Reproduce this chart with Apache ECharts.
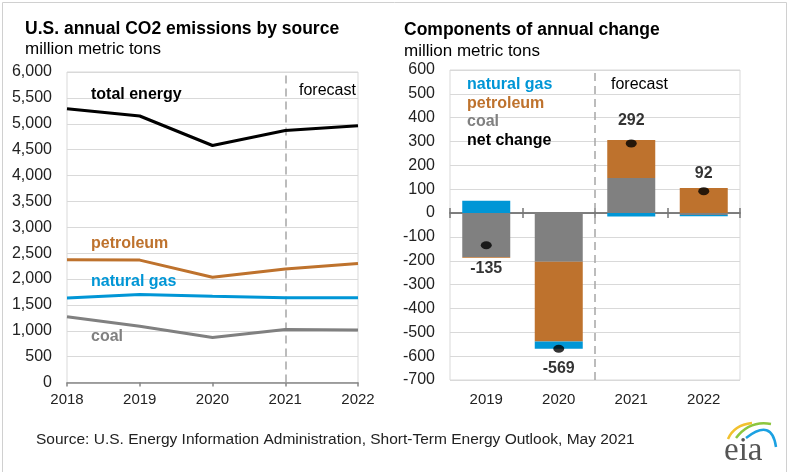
<!DOCTYPE html>
<html>
<head>
<meta charset="utf-8">
<script src="https://cdn.jsdelivr.net/npm/echarts@6/dist/echarts.min.js"></script>
<style>
html,body{margin:0;padding:0;background:#fff;}
#chart{width:790px;height:472px;}
</style>
</head>
<body>
<div id="chart"></div>
<script>
// ---- Data ----
var years = ['2018', '2019', '2020', '2021', '2022'];
var totalEnergy = [5290, 5150, 4580, 4870, 4960];
var petroleum = [2370, 2365, 2035, 2195, 2300];
var naturalGas = [1635, 1700, 1665, 1640, 1640];
var coal = [1270, 1085, 870, 1025, 1015];
var forecastYear = '2021';

var changeYears = ['2019', '2020', '2021', '2022'];
var coalChange = [-184, -204, 147, -8];
var petroleumChange = [-3, -335, 159, 105];
var gasChange = [52, -30, -14, -5];
var netChange = [-135, -569, 292, 92];
var changeForecastBoundary = 2; // boundary index between 2020 and 2021

var leftTicks = [0, 6000, 500];
var rightTicks = [-700, 600, 100];

// ---- Styles ----
var FONT = '"Liberation Sans", Arial, sans-serif';
var C_PET = '#BE722D';
var C_GAS = '#0096D6';
var C_COAL = '#808080';
var C_GRID = '#D9D9D9';
var C_TEXT = '#222222';

function fmt(v) { return v.toLocaleString('en-US'); }

var chart = echarts.init(document.getElementById('chart'), null, {renderer: 'canvas'});

function txt(text, x, y, font, fill, align, vAlign) {
  return {type: 'text', silent: true, z: 100, style: {text: text, x: x, y: y, font: font, fill: fill, align: align || 'left', verticalAlign: vAlign || 'middle'}};
}

var labelPos = netChange.map(function (v, i) {
  var dist = [11, 8, 11, 6][i];
  return {value: v, label: {position: v < 0 ? 'bottom' : 'top', distance: dist}};
});

var option = {
  animation: false,
  backgroundColor: '#ffffff',
  grid: [
    {left: 67, top: 72, width: 291, height: 310.5, show: true, borderColor: C_GRID, borderWidth: 1, containLabel: false},
    {left: 450, top: 70, width: 290, height: 310, show: true, borderColor: C_GRID, borderWidth: 1, containLabel: false}
  ],
  xAxis: [
    {
      gridIndex: 0, type: 'category', data: years, boundaryGap: false,
      axisLine: {show: true, onZero: false, lineStyle: {color: '#868686', width: 1.5}},
      axisTick: {show: true, length: 4, lineStyle: {color: '#868686', width: 1.5}},
      axisLabel: {fontFamily: FONT, fontSize: 15, color: C_TEXT, margin: 10},
      splitLine: {show: false}
    },
    {
      gridIndex: 1, type: 'category', data: changeYears, position: 'bottom',
      axisLine: {show: false, onZero: false},
      axisTick: {show: false},
      axisLabel: {fontFamily: FONT, fontSize: 15, color: C_TEXT, margin: 12},
      splitLine: {show: false}
    },
    {
      gridIndex: 1, type: 'category', data: changeYears, position: 'bottom',
      axisLine: {show: true, onZero: true, onZeroAxisIndex: 1, lineStyle: {color: '#777777', width: 1.5}},
      axisTick: {show: true, length: 5, lineStyle: {color: '#777777', width: 1.5}},
      axisLabel: {show: false},
      splitLine: {show: false}
    },
    {
      gridIndex: 1, type: 'category', data: changeYears, position: 'top',
      axisLine: {show: true, onZero: true, onZeroAxisIndex: 1, lineStyle: {color: '#777777', width: 1.5}},
      axisTick: {show: true, length: 5, lineStyle: {color: '#777777', width: 1.5}},
      axisLabel: {show: false},
      splitLine: {show: false}
    },
    {
      gridIndex: 1, type: 'value', min: 0, max: changeYears.length, show: false,
      axisLine: {onZero: false}
    }
  ],
  yAxis: [
    {
      gridIndex: 0, type: 'value', min: leftTicks[0], max: leftTicks[1], interval: leftTicks[2],
      axisLine: {show: false, onZero: false}, axisTick: {show: false},
      axisLabel: {fontFamily: FONT, fontSize: 16, color: C_TEXT, margin: 15, formatter: fmt},
      splitLine: {show: true, lineStyle: {color: C_GRID, width: 1}}
    },
    {
      gridIndex: 1, type: 'value', min: rightTicks[0], max: rightTicks[1], interval: rightTicks[2],
      axisLine: {show: false, onZero: false}, axisTick: {show: false},
      axisLabel: {fontFamily: FONT, fontSize: 16, color: C_TEXT, margin: 15},
      splitLine: {show: true, lineStyle: {color: C_GRID, width: 1}}
    }
  ],
  series: [
    {
      name: 'total energy', type: 'line', xAxisIndex: 0, yAxisIndex: 0, data: totalEnergy,
      symbol: 'none', lineStyle: {color: '#000000', width: 3}, z: 5,
      markLine: {
        silent: true, symbol: 'none', label: {show: false},
        lineStyle: {color: '#A6A6A6', width: 1.5, type: [8, 5]},
        data: [{xAxis: forecastYear}]
      }
    },
    {name: 'petroleum', type: 'line', xAxisIndex: 0, yAxisIndex: 0, data: petroleum, symbol: 'none', lineStyle: {color: C_PET, width: 3}, z: 5},
    {name: 'natural gas', type: 'line', xAxisIndex: 0, yAxisIndex: 0, data: naturalGas, symbol: 'none', lineStyle: {color: C_GAS, width: 3}, z: 5},
    {name: 'coal', type: 'line', xAxisIndex: 0, yAxisIndex: 0, data: coal, symbol: 'none', lineStyle: {color: C_COAL, width: 3}, z: 5},

    {name: 'coal chg', type: 'bar', xAxisIndex: 1, yAxisIndex: 1, stack: 'chg', data: coalChange, barWidth: 48, itemStyle: {color: C_COAL}},
    {name: 'petroleum chg', type: 'bar', xAxisIndex: 1, yAxisIndex: 1, stack: 'chg', data: petroleumChange, barWidth: 48, itemStyle: {color: C_PET}},
    {name: 'gas chg', type: 'bar', xAxisIndex: 1, yAxisIndex: 1, stack: 'chg', data: gasChange, barWidth: 48, itemStyle: {color: C_GAS}},
    {
      name: 'net change', type: 'scatter', xAxisIndex: 1, yAxisIndex: 1, data: labelPos,
      symbol: 'circle', symbolSize: [11, 8], itemStyle: {color: '#000000'}, z: 10,
      label: {show: true, fontFamily: FONT, fontSize: 16, fontWeight: 'bold', color: '#000000'}
    },
    {
      name: 'forecast boundary', type: 'line', xAxisIndex: 4, yAxisIndex: 1,
      data: [[changeForecastBoundary, rightTicks[0]], [changeForecastBoundary, rightTicks[1]]],
      symbol: 'none', silent: true, z: 1,
      lineStyle: {color: '#A6A6A6', width: 1.5, type: [8, 5]}
    }
  ],
  graphic: [
    {type: 'rect', silent: true, z: 100, shape: {x: 2.5, y: 2.5, width: 784, height: 480}, style: {fill: 'none', stroke: '#D0D0D0', lineWidth: 1}},
    txt('U.S. annual CO2 emissions by source', 25, 29, 'bold 17.5px ' + FONT, '#000000'),
    txt('million metric tons', 25, 49, '17px ' + FONT, '#000000'),
    txt('Components of annual change', 404, 30, 'bold 17.5px ' + FONT, '#000000'),
    txt('million metric tons', 404, 51, '17px ' + FONT, '#000000'),

    txt('total energy', 91, 95, 'bold 16px ' + FONT, '#000000'),
    txt('forecast', 299, 91, '16px ' + FONT, '#000000'),
    txt('petroleum', 91, 244, 'bold 16px ' + FONT, C_PET),
    txt('natural gas', 91, 282, 'bold 16px ' + FONT, C_GAS),
    txt('coal', 91, 337, 'bold 16px ' + FONT, C_COAL),

    txt('natural gas', 467, 85, 'bold 16px ' + FONT, C_GAS),
    txt('petroleum', 467, 104, 'bold 16px ' + FONT, C_PET),
    txt('coal', 467, 122, 'bold 16px ' + FONT, C_COAL),
    txt('net change', 467, 141, 'bold 16px ' + FONT, '#000000'),
    txt('forecast', 611, 85, '16px ' + FONT, '#000000'),

    txt('Source: U.S. Energy Information Administration, Short-Term Energy Outlook, May 2021', 36, 440, '15.5px ' + FONT, C_TEXT),

    {type: 'bezierCurve', silent: true, z: 100, shape: {x1: 728, y1: 439, x2: 752, y2: 423, cpx1: 734, cpy1: 425}, style: {stroke: '#F2C12E', lineWidth: 2.5, fill: 'none'}},
    {type: 'bezierCurve', silent: true, z: 100, shape: {x1: 736, y1: 438, x2: 771, y2: 424, cpx1: 750, cpy1: 420}, style: {stroke: '#8CC63F', lineWidth: 2.5, fill: 'none'}},
    {type: 'bezierCurve', silent: true, z: 100, shape: {x1: 746, y1: 438, x2: 776, y2: 447, cpx1: 772, cpy1: 418}, style: {stroke: '#1BA1E2', lineWidth: 2.5, fill: 'none'}},
    txt('eia', 724, 451, '33px "Liberation Serif", serif', '#555555')
  ]
};

chart.setOption(option);
</script>
</body>
</html>
